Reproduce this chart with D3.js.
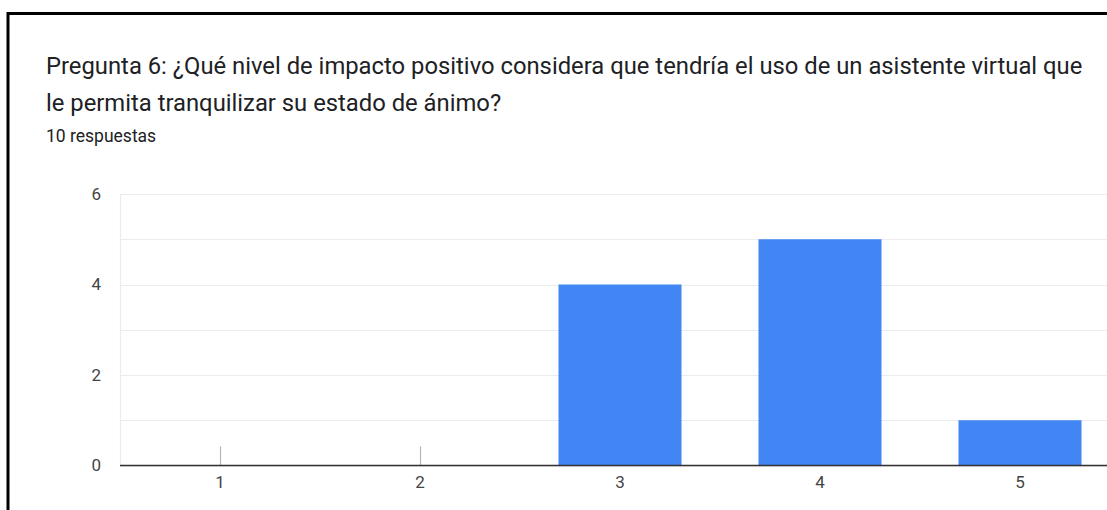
<!DOCTYPE html>
<html>
<head>
<meta charset="utf-8">
<script src="https://cdn.jsdelivr.net/npm/d3@7"></script>
<style>
  html, body { margin: 0; padding: 0; background: #fff; }
  svg { display: block; }
</style>
</head>
<body>
<svg id="chart" width="1107" height="510"></svg>
<script>
// Survey question and response counts per rating level
const titleLines = [
  "Pregunta 6: ¿Qué nivel de impacto positivo considera que tendría el uso de un asistente virtual que",
  "le permita tranquilizar su estado de ánimo?"
];
const subtitle = "10 respuestas";
const categories = ["1", "2", "3", "4", "5"];
const counts = [0, 0, 4, 5, 1];
const yTicks = [0, 2, 4, 6];
const yGrid = [0, 1, 2, 3, 4, 5, 6];

const svg = d3.select("#chart");
const font = "Roboto, 'Noto Sans', Arial, sans-serif";

// card frame (top and left edges)
svg.append("line").attr("x1", 8).attr("x2", 1107).attr("y1", 13.5).attr("y2", 13.5)
  .attr("stroke", "#000").attr("stroke-width", 3);
svg.append("line").attr("x1", 8).attr("x2", 8).attr("y1", 12).attr("y2", 510)
  .attr("stroke", "#000").attr("stroke-width", 3);

// heading
svg.selectAll("text.title").data(titleLines).enter().append("text")
  .attr("class", "title")
  .attr("x", 46).attr("y", (d, i) => 74 + i * 36.5)
  .style("font-family", font).style("font-size", "23.8px").attr("fill", "#202124")
  .text(d => d);
svg.append("text").attr("x", 46).attr("y", 142)
  .style("font-family", font).style("font-size", "17.5px").attr("fill", "#202124")
  .text(subtitle);

const plotLeft = 120, plotRight = 1120, plotTop = 194, plotBottom = 465.5;
const x = d3.scaleBand().domain(categories).range([plotLeft, plotRight]).paddingInner(0.385).paddingOuter(0.1925);
const y = d3.scaleLinear().domain([0, 6]).range([plotBottom, plotTop]);

// gridlines
svg.append("g").selectAll("line").data(yGrid).enter().append("line")
  .attr("x1", plotLeft).attr("x2", 1107)
  .attr("y1", d => Math.round(y(d)) + 0.5).attr("y2", d => Math.round(y(d)) + 0.5)
  .attr("stroke", "#ececec").attr("stroke-width", 1.2);
svg.append("line").attr("x1", plotLeft + 0.5).attr("x2", plotLeft + 0.5).attr("y1", plotTop).attr("y2", plotBottom)
  .attr("stroke", "#ececec").attr("stroke-width", 1.2);

// bars
svg.append("g").selectAll("rect").data(counts.map((v, i) => ({ c: categories[i], v })).filter(d => d.v > 0))
  .enter().append("rect")
  .attr("x", d => x(d.c)).attr("width", x.bandwidth())
  .attr("y", d => y(d.v)).attr("height", d => y(0) - y(d.v))
  .attr("fill", "#4285f4");

// zero-count markers
svg.append("g").selectAll("line").data(categories.filter((c, i) => counts[i] === 0))
  .enter().append("line")
  .attr("x1", d => x(d) + x.bandwidth() / 2 + 0.5).attr("x2", d => x(d) + x.bandwidth() / 2 + 0.5)
  .attr("y1", plotBottom - 19).attr("y2", plotBottom)
  .attr("stroke", "#b7b7b7").attr("stroke-width", 1.2);

// baseline
svg.append("line").attr("x1", plotLeft).attr("x2", 1107).attr("y1", plotBottom).attr("y2", plotBottom)
  .attr("stroke", "#333").attr("stroke-width", 1.6);

// y axis labels
const yAxis = d3.axisLeft(y).tickValues(yTicks).tickSize(0).tickPadding(19).tickFormat(d3.format("d"));
const gy = svg.append("g").attr("transform", `translate(${plotLeft},0)`).call(yAxis);
gy.select(".domain").remove();
gy.attr("font-size", null).attr("font-family", null);
gy.selectAll("text").style("font-family", font).style("font-size", "17px").attr("fill", "#444");

// x axis labels
const xAxis = d3.axisBottom(x).tickSize(0).tickPadding(10);
const gx = svg.append("g").attr("transform", `translate(0,${plotBottom})`).call(xAxis);
gx.select(".domain").remove();
gx.attr("font-size", null).attr("font-family", null);
gx.selectAll("text").style("font-family", font).style("font-size", "17px").attr("fill", "#444");
</script>
</body>
</html>
